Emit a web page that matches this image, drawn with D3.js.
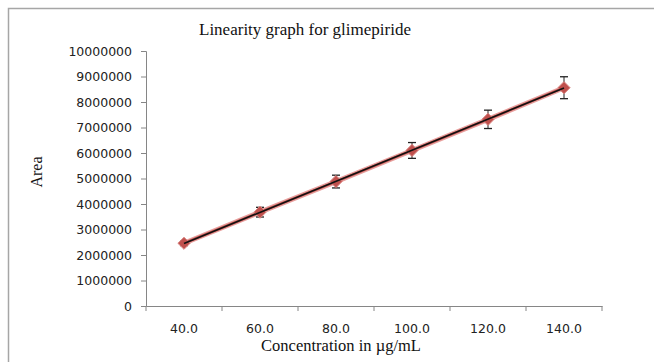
<!DOCTYPE html>
<html>
<head>
<meta charset="utf-8">
<script src="https://cdn.jsdelivr.net/npm/d3@7"></script>
<style>
  body { margin: 0; background: #fff; }
</style>
</head>
<body>
<script>
const concentrations = ["40.0", "60.0", "80.0", "100.0", "120.0", "140.0"]
const concValues = [40, 60, 80, 100, 120, 140]
const areas = [2460000, 3680000, 4880000, 6100000, 7320000, 8560000]
const errors = [90000, 190000, 250000, 310000, 360000, 430000]
const yTicks = d3.range(0, 10000001, 1000000)

const width = 654
const height = 362

const svg = d3.select("body")
        .append("svg")
        .attr("width", width)
        .attr("height", height)
        .style("display", "block")

// chart frame (runs off the right and bottom edges like the original)
svg.append("rect")
    .attr("x", 8.5).attr("y", 8.5)
    .attr("width", 720).attr("height", 420)
    .attr("fill", "none")
    .attr("stroke", "#a6a6a6")
    .attr("stroke-width", 1.5)

const x = d3.scaleBand().domain(concentrations).range([146, 602])
const y = d3.scaleLinear().domain([0, 10000000]).range([306, 51])

// y axis
const yAxis = svg.append("g")
    .attr("transform", "translate(146,0)")
    .call(d3.axisLeft(y).tickValues(yTicks).tickSize(5).tickPadding(9).tickFormat(d3.format("d")))
yAxis.select(".domain").attr("stroke", "#868686")
yAxis.selectAll(".tick line").attr("stroke", "#868686")
yAxis.selectAll("text")
    .attr("font-family", "DejaVu Sans")
    .attr("font-size", 12.5)
    .attr("fill", "#222")

// x axis, ticks on the category boundaries
const xAxis = svg.append("g")
    .attr("transform", "translate(0,306)")
    .call(d3.axisBottom(x).tickSize(0).tickPadding(18))
xAxis.select(".domain").attr("stroke", "#868686")
xAxis.selectAll("text")
    .attr("font-family", "DejaVu Sans")
    .attr("font-size", 12.5)
    .attr("fill", "#222")
svg.append("g")
    .selectAll("line")
    .data(concentrations.concat(["end"]))
    .enter()
    .append("line")
    .attr("x1", (d, i) => x.range()[0] + x.step() * i)
    .attr("x2", (d, i) => x.range()[0] + x.step() * i)
    .attr("y1", 306)
    .attr("y2", 311)
    .attr("stroke", "#868686")

const cx = d => x(d) + x.bandwidth() / 2

// series line (red, soft)
const line = d3.line()
    .x((d, i) => cx(concentrations[i]))
    .y(d => y(d))
svg.append("path")
    .datum(areas)
    .attr("d", line)
    .attr("fill", "none")
    .attr("stroke", "#e8a09e")
    .attr("stroke-width", 5)
svg.append("path")
    .datum(areas)
    .attr("d", line)
    .attr("fill", "none")
    .attr("stroke", "#c0504d")
    .attr("stroke-width", 2.5)

// error bars
const bars = svg.append("g")
    .selectAll("g")
    .data(areas)
    .enter()
    .append("g")
bars.append("line")
    .attr("x1", (d, i) => cx(concentrations[i]))
    .attr("x2", (d, i) => cx(concentrations[i]))
    .attr("y1", (d, i) => y(d + errors[i]))
    .attr("y2", (d, i) => y(d - errors[i]))
    .attr("stroke", "#222")
bars.selectAll(".cap")
    .data((d, i) => [[i, d + errors[i]], [i, d - errors[i]]])
    .enter()
    .append("line")
    .attr("x1", c => cx(concentrations[c[0]]) - 4)
    .attr("x2", c => cx(concentrations[c[0]]) + 4)
    .attr("y1", c => y(c[1]))
    .attr("y2", c => y(c[1]))
    .attr("stroke", "#222")
    .attr("stroke-width", 1.3)

// markers
svg.append("g")
    .selectAll("path")
    .data(areas)
    .enter()
    .append("path")
    .attr("d", d3.symbol().type(d3.symbolDiamond2).size(95))
    .attr("transform", (d, i) => `translate(${cx(concentrations[i])},${y(d)})`)
    .attr("fill", "#c0504d")
    .attr("stroke", "#d98885")
    .attr("stroke-width", 1)

// linear trendline
const mx = d3.mean(concValues), my = d3.mean(areas)
const slope = d3.sum(concValues, (c, i) => (c - mx) * (areas[i] - my)) / d3.sum(concValues, c => (c - mx) ** 2)
const icpt = my - slope * mx
const xc = d3.scaleLinear().domain([40, 140]).range([cx("40.0"), cx("140.0")])
svg.append("line")
    .attr("x1", xc(40)).attr("y1", y(slope * 40 + icpt))
    .attr("x2", xc(140)).attr("y2", y(slope * 140 + icpt))
    .attr("stroke", "#111")
    .attr("stroke-width", 1.6)

// titles
svg.append("text")
    .attr("x", 305).attr("y", 35)
    .attr("text-anchor", "middle")
    .attr("font-family", "Liberation Serif")
    .attr("font-size", 17)
    .attr("fill", "#111")
    .text("Linearity graph for glimepiride")
svg.append("text")
    .attr("transform", "translate(42,172) rotate(-90)")
    .attr("text-anchor", "middle")
    .attr("font-family", "Liberation Serif")
    .attr("font-size", 16)
    .attr("fill", "#111")
    .text("Area")
svg.append("text")
    .attr("x", 341).attr("y", 351)
    .attr("text-anchor", "middle")
    .attr("font-family", "Liberation Serif")
    .attr("font-size", 16.5)
    .attr("fill", "#111")
    .text("Concentration in µg/mL")
</script>
</body>
</html>
